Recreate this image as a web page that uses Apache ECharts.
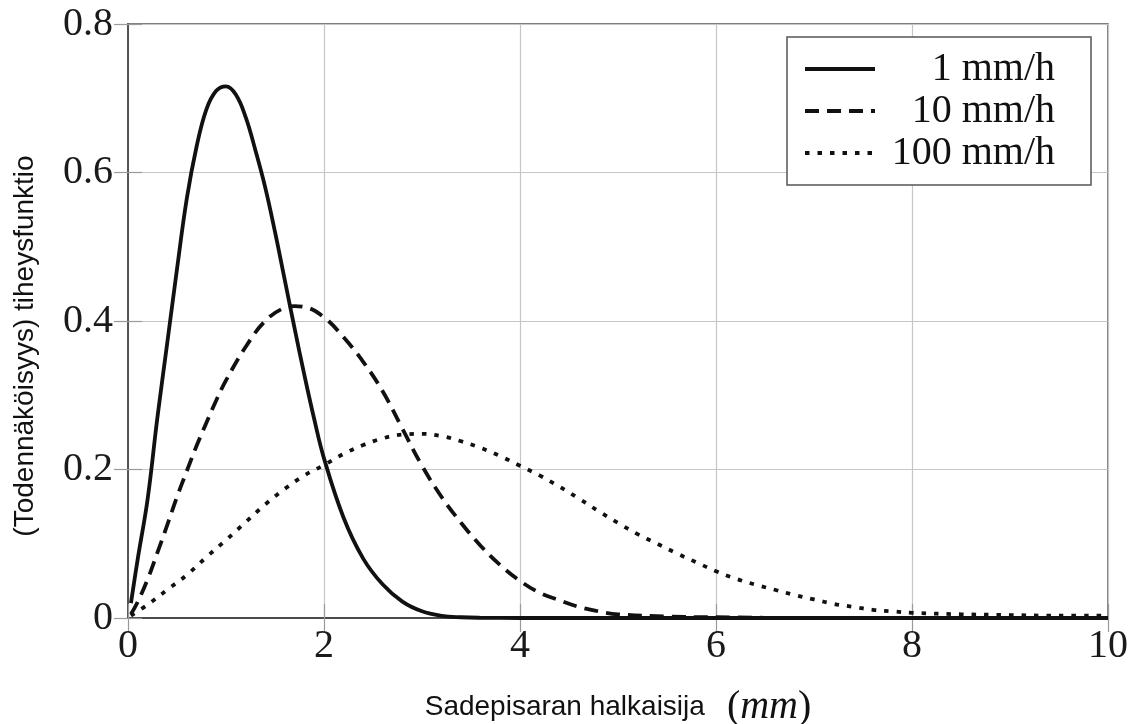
<!DOCTYPE html>
<html>
<head>
<meta charset="utf-8">
<script src="https://cdn.jsdelivr.net/npm/echarts@6/dist/echarts.min.js"></script>
<style>
  html, body { margin: 0; padding: 0; background: #fff; }
  #chart { width: 1144px; height: 724px; }
</style>
</head>
<body>
<div id="chart"></div>
<script>
// Raindrop diameter distributions for three rain intensities
const seriesNames = ['1 mm/h', '10 mm/h', '100 mm/h'];
const xTickValues = [0, 2, 4, 6, 8, 10];
const yTickValues = [0, 0.2, 0.4, 0.6, 0.8];

// 1 mm/h
const xLight = [0.03, 0.1, 0.2, 0.3, 0.4, 0.5, 0.6, 0.7, 0.8, 0.9, 1.0, 1.1, 1.2, 1.3, 1.4, 1.5, 1.6, 1.7, 1.8, 1.9, 2.0, 2.2, 2.4, 2.6, 2.8, 3.0, 3.2, 3.4, 3.6, 4.0, 5, 6, 7, 8, 9, 10];
const yLight = [0.02, 0.08, 0.16, 0.27, 0.37, 0.47, 0.565, 0.635, 0.685, 0.71, 0.716, 0.705, 0.675, 0.63, 0.58, 0.52, 0.455, 0.39, 0.327, 0.268, 0.215, 0.135, 0.08, 0.045, 0.022, 0.009, 0.003, 0.001, 0.0003, 0, 0, 0, 0, 0, 0, 0];

// 10 mm/h
const xModerate = [0.03, 0.1, 0.2, 0.3, 0.4, 0.5, 0.6, 0.7, 0.8, 0.9, 1.0, 1.2, 1.4, 1.6, 1.7, 1.8, 2.0, 2.2, 2.4, 2.6, 2.8, 3.0, 3.2, 3.4, 3.6, 3.8, 4.0, 4.2, 4.4, 4.6, 4.8, 5.0, 5.5, 6, 7, 8, 9, 10];
const yModerate = [0.005, 0.022, 0.052, 0.088, 0.125, 0.163, 0.198, 0.232, 0.263, 0.293, 0.32, 0.365, 0.4, 0.418, 0.42, 0.419, 0.405, 0.378, 0.345, 0.305, 0.255, 0.205, 0.163, 0.128, 0.097, 0.071, 0.05, 0.034, 0.024, 0.015, 0.009, 0.005, 0.002, 0.001, 0, 0, 0, 0];

// 100 mm/h
const xHeavy = [0.03, 0.2, 0.4, 0.6, 0.8, 1.0, 1.2, 1.4, 1.6, 1.8, 2.0, 2.2, 2.4, 2.6, 2.8, 3.0, 3.2, 3.4, 3.6, 3.8, 4.0, 4.2, 4.4, 4.6, 4.8, 5.0, 5.2, 5.4, 5.6, 5.8, 6.0, 6.2, 6.4, 6.6, 6.8, 7.0, 7.2, 7.4, 7.6, 7.8, 8.0, 8.5, 9.0, 9.5, 10];
const yHeavy = [0.003, 0.018, 0.038, 0.058, 0.082, 0.105, 0.129, 0.153, 0.174, 0.192, 0.206, 0.221, 0.233, 0.242, 0.247, 0.248, 0.245, 0.238, 0.229, 0.218, 0.205, 0.192, 0.177, 0.161, 0.144, 0.128, 0.113, 0.1, 0.087, 0.075, 0.063, 0.053, 0.045, 0.038, 0.031, 0.025, 0.019, 0.015, 0.011, 0.009, 0.007, 0.005, 0.004, 0.003, 0.003];

const pairs = (xs, ys) => xs.map((x, i) => [x, ys[i]]);

const SERIF = '"Liberation Serif", "DejaVu Serif", serif';
const SANS = '"Liberation Sans", Arial, sans-serif';
const INK = '#111';

const tickStyle = { show: true, inside: true, length: 14, lineStyle: { color: '#9a9a9a', width: 1.2 } };
const gridLineStyle = { show: true, lineStyle: { color: '#c6c6c6', width: 1.2 } };

function curve(name, data, lineType) {
  return {
    name, type: 'line', data,
    showSymbol: false, symbol: 'none',
    smooth: 0.4,
    clip: true,
    lineStyle: { color: INK, width: 3.8, type: lineType, cap: 'butt', join: 'round' },
    itemStyle: { color: INK },
    emphasis: { disabled: true }
  };
}

const chart = echarts.init(document.getElementById('chart'), null, { renderer: 'canvas' });
chart.setOption({
  animation: false,
  backgroundColor: '#fff',
  grid: {
    left: 128, right: 36, top: 24, bottom: 106,
    show: true, borderColor: '#555', borderWidth: 1.5,
    outerBoundsMode: 'none'
  },
  legend: {
    data: seriesNames,
    orient: 'vertical',
    left: 787, top: 37,
    padding: [12, 36, 12, 16],
    itemGap: 2, itemWidth: 70, itemHeight: 20, itemTextGap: 5,
    borderColor: '#555', borderWidth: 1.5,
    backgroundColor: '#fff',
    selectedMode: false,
    // only the line sample is shown next to each name
    itemStyle: { opacity: 0, borderWidth: 0 },
    lineStyle: { width: 4, cap: 'butt' },
    formatter: n => '{t|' + n + '}',
    textStyle: {
      rich: { t: { width: 175, align: 'right', fontFamily: SERIF, fontSize: 40, lineHeight: 48, color: INK } }
    }
  },
  xAxis: [{
    type: 'value', min: xTickValues[0], max: xTickValues[xTickValues.length - 1], interval: 2,
    position: 'bottom',
    axisLine: { show: true, onZero: false, lineStyle: { color: '#333', width: 2 } },
    axisTick: tickStyle,
    axisLabel: { fontFamily: SERIF, fontSize: 40, color: '#1a1a1a', margin: 8 },
    splitLine: gridLineStyle,
    name: '{a|Sadepisaran halkaisija}{s|}{b|(}{c|mm}{b|)}',
    nameLocation: 'middle', nameGap: 69,
    nameTextStyle: {
      rich: {
        a: { fontFamily: SANS, fontSize: 28, color: INK },
        s: { width: 22 },
        b: { fontFamily: SERIF, fontSize: 40, color: INK },
        c: { fontFamily: SERIF, fontStyle: 'italic', fontSize: 40, color: INK }
      }
    }
  }, {
    type: 'value', min: 0, max: 10, interval: 2, position: 'top',
    axisLine: { show: true, lineStyle: { color: '#555', width: 1.5 } },
    axisTick: tickStyle, axisLabel: { show: false }, splitLine: { show: false }
  }],
  yAxis: [{
    type: 'value', min: yTickValues[0], max: yTickValues[yTickValues.length - 1], interval: 0.2,
    position: 'left',
    axisLine: { show: true, onZero: false, lineStyle: { color: '#555', width: 2 } },
    axisTick: tickStyle,
    axisLabel: { fontFamily: SERIF, fontSize: 40, color: '#1a1a1a', margin: 15 },
    splitLine: gridLineStyle,
    name: '(Todennäköisyys) tiheysfunktio',
    nameLocation: 'middle', nameGap: 89,
    nameTextStyle: { fontFamily: SANS, fontSize: 28, color: INK, padding: [0, 50, 0, 0] }
  }, {
    type: 'value', min: 0, max: 0.8, interval: 0.2, position: 'right',
    axisLine: { show: true, lineStyle: { color: '#555', width: 1.5 } },
    axisTick: tickStyle, axisLabel: { show: false }, splitLine: { show: false }
  }],
  series: [
    curve(seriesNames[0], pairs(xLight, yLight), 'solid'),
    curve(seriesNames[1], pairs(xModerate, yModerate), [14, 8]),
    curve(seriesNames[2], pairs(xHeavy, yHeavy), [4.5, 8])
  ]
});
</script>
</body>
</html>
